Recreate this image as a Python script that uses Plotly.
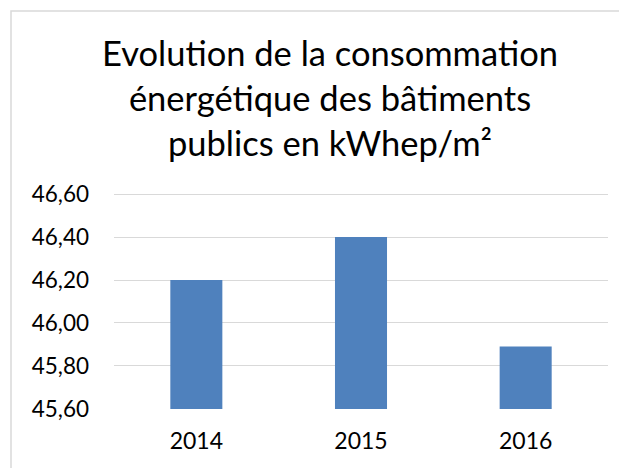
import plotly.graph_objects as go

years = ["2014", "2015", "2016"]
values = [46.20, 46.40, 45.89]
tick_vals = [45.6, 45.8, 46.0, 46.2, 46.4, 46.6]
tick_text = ["45,60", "45,80", "46,00", "46,20", "46,40", "46,60"]
title_text = "Evolution de la consommation<br>énergétique des bâtiments<br>publics en kWhep/m²"

fig = go.Figure(go.Bar(
    x=years, y=values, marker_color="#4F81BD",
    marker_line_width=0, width=0.316,
))

OFF = 8  # page body margin
W, H = 627, 468
L, R, T, B = 114 - OFF, 27, 193 - OFF, 67
pw, ph = W - L - R, H - T - B


def py(screen_y):
    return (H - B - (screen_y - OFF)) / ph


def px(screen_x):
    return (screen_x - OFF - L) / pw


fig.update_layout(
    width=W, height=H,
    margin=dict(l=L, r=R, t=T, b=B),
    paper_bgcolor="white", plot_bgcolor="white",
    font=dict(family="Lato, sans-serif", color="#000000"),
    showlegend=False,
)
fig.add_annotation(text=title_text, xref="paper", yref="paper",
                   x=px(330), y=py(97), xanchor="center", yanchor="middle",
                   showarrow=False, align="center",
                   font=dict(size=34.5, family="Lato, sans-serif", color="#000000"))
fig.update_yaxes(range=[45.5995, 46.605], tickvals=tick_vals, ticktext=tick_text,
                 showgrid=True, gridcolor="#D9D9D9", gridwidth=1.3,
                 zeroline=False, showline=False, ticks="",
                 tickfont=dict(size=22.5, family="Lato, sans-serif"),
                 ticklabelstandoff=24)
fig.update_xaxes(showgrid=False, showline=False, ticks="",
                 tickfont=dict(size=23, family="Lato, sans-serif"),
                 ticklabelstandoff=16)

# outer chart border
fig.add_shape(type="rect", xref="paper", yref="paper",
              x0=px(11), x1=px(680),
              y0=py(520), y1=py(11),
              line=dict(color="#D9D9D9", width=1.5), fillcolor="rgba(0,0,0,0)",
              layer="below")

fig.write_html("out.html")
